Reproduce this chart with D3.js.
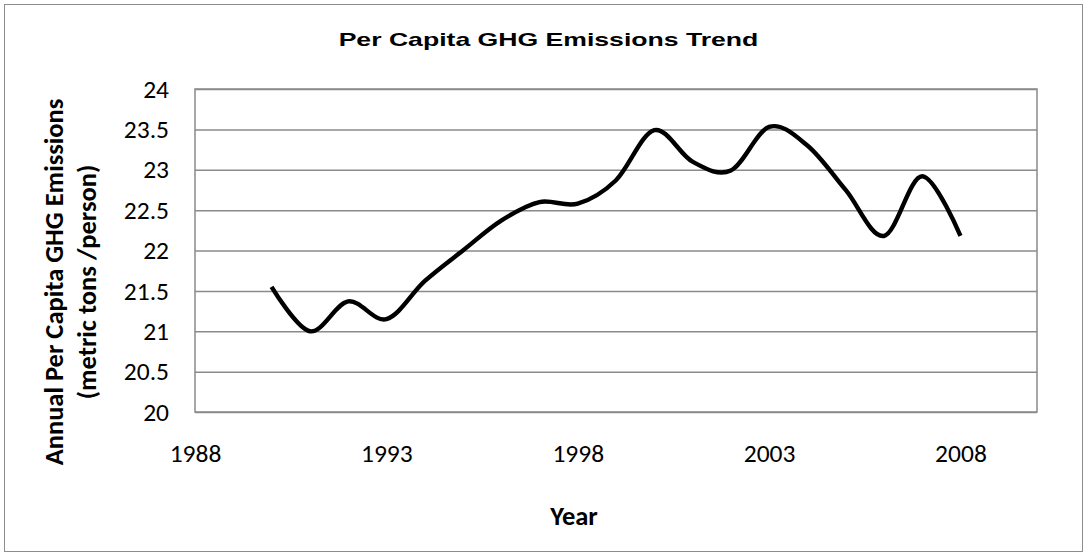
<!DOCTYPE html>
<html>
<head>
<meta charset="utf-8">
<script src="https://cdn.jsdelivr.net/npm/d3@7"></script>
<style>
  html, body { margin: 0; padding: 0; background: #fff; }
  svg { display: block; }
</style>
</head>
<body>
<svg id="chart" width="1087" height="554"></svg>
<script>
// Annual per capita greenhouse-gas emissions (metric tons / person)
const years = [1990, 1991, 1992, 1993, 1994, 1995, 1996, 1997, 1998, 1999,
               2000, 2001, 2002, 2003, 2004, 2005, 2006, 2007, 2008];
const emissions = [21.55, 21.0, 21.37, 21.15, 21.62, 22.0, 22.37, 22.60, 22.58, 22.87,
                   23.49, 23.10, 22.99, 23.53, 23.30, 22.75, 22.18, 22.92, 22.18];
const xTicks = [1988, 1993, 1998, 2003, 2008];
const yTicks = [20, 20.5, 21, 21.5, 22, 22.5, 23, 23.5, 24];

const titleText = "Per Capita GHG Emissions Trend";
const xTitle = "Year";
const yTitleLines = ["Annual Per Capita GHG Emissions", "(metric tons /person)"];

const W = 1087, H = 554;
const plot = { left: 195, right: 1037, top: 89, bottom: 412 };
const gridColor = "#8a8a8a";
const labelFont = "Carlito, Calibri, Lato, sans-serif";

const svg = d3.select("#chart");

// outer chart frame
svg.append("rect")
  .attr("x", 4.5).attr("y", 4.5)
  .attr("width", W - 9).attr("height", H - 7)
  .attr("fill", "#fff")
  .attr("stroke", "#8c8c8c")
  .attr("stroke-width", 1);

const x = d3.scaleLinear().domain([1988, 2010]).range([plot.left, plot.right]);
const y = d3.scaleLinear().domain([20, 24]).range([plot.bottom, plot.top]);

// horizontal gridlines + y tick labels
const yAxis = svg.append("g")
  .attr("transform", `translate(${plot.left},0)`)
  .call(d3.axisLeft(y)
    .tickValues(yTicks)
    .tickSize(-(plot.right - plot.left))
    .tickPadding(26)
    .tickFormat(d3.format("~g")));
yAxis.select(".domain").remove();
yAxis.selectAll(".tick line")
  .attr("stroke", gridColor)
  .attr("stroke-width", 1.5);
yAxis.selectAll(".tick text")
  .attr("fill", "#000")
  .style("font-family", labelFont)
  .style("font-size", "25.5px");

// x tick labels
const xAxis = svg.append("g")
  .attr("transform", `translate(0,${plot.bottom})`)
  .call(d3.axisBottom(x)
    .tickValues(xTicks)
    .tickSize(0)
    .tickPadding(32)
    .tickFormat(d3.format("d")));
xAxis.select(".domain").remove();
xAxis.selectAll(".tick text")
  .attr("fill", "#000")
  .style("font-family", labelFont)
  .style("font-size", "25.5px");

// plot area border
svg.append("rect")
  .attr("x", plot.left).attr("y", plot.top)
  .attr("width", plot.right - plot.left)
  .attr("height", plot.bottom - plot.top)
  .attr("fill", "none")
  .attr("stroke", gridColor)
  .attr("stroke-width", 1.5);

// smoothed emissions line
const line = d3.line()
  .x((d, i) => x(years[i]))
  .y(d => y(d))
  .curve(d3.curveCatmullRom.alpha(0));

svg.append("path")
  .datum(emissions)
  .attr("d", line)
  .attr("fill", "none")
  .attr("stroke", "#000")
  .attr("stroke-width", 4.4)
  .attr("stroke-linejoin", "round");

// chart title, widened horizontally to the frame's wide lettering
const title = svg.append("text")
  .attr("text-anchor", "middle")
  .style("font-family", "'Liberation Sans', Arial, sans-serif")
  .style("font-weight", "bold")
  .style("font-size", "18px")
  .text(titleText);
const titleW = title.node().getComputedTextLength();
title.attr("transform", `translate(548.5,46) scale(${420 / titleW},1)`);

// x axis title
svg.append("text")
  .attr("x", 574).attr("y", 525)
  .attr("text-anchor", "middle")
  .style("font-family", labelFont)
  .style("font-weight", "bold")
  .style("font-size", "26.5px")
  .text(xTitle);

// y axis title, two rotated lines
const yTitle = svg.append("text")
  .attr("transform", "translate(63,282) rotate(-90)")
  .attr("text-anchor", "middle")
  .style("font-family", labelFont)
  .style("font-weight", "bold")
  .style("font-size", "26.5px");
yTitle.selectAll("tspan")
  .data(yTitleLines)
  .join("tspan")
  .attr("x", 0)
  .attr("dy", (d, i) => i === 0 ? 0 : 33)
  .text(d => d);
</script>
</body>
</html>
